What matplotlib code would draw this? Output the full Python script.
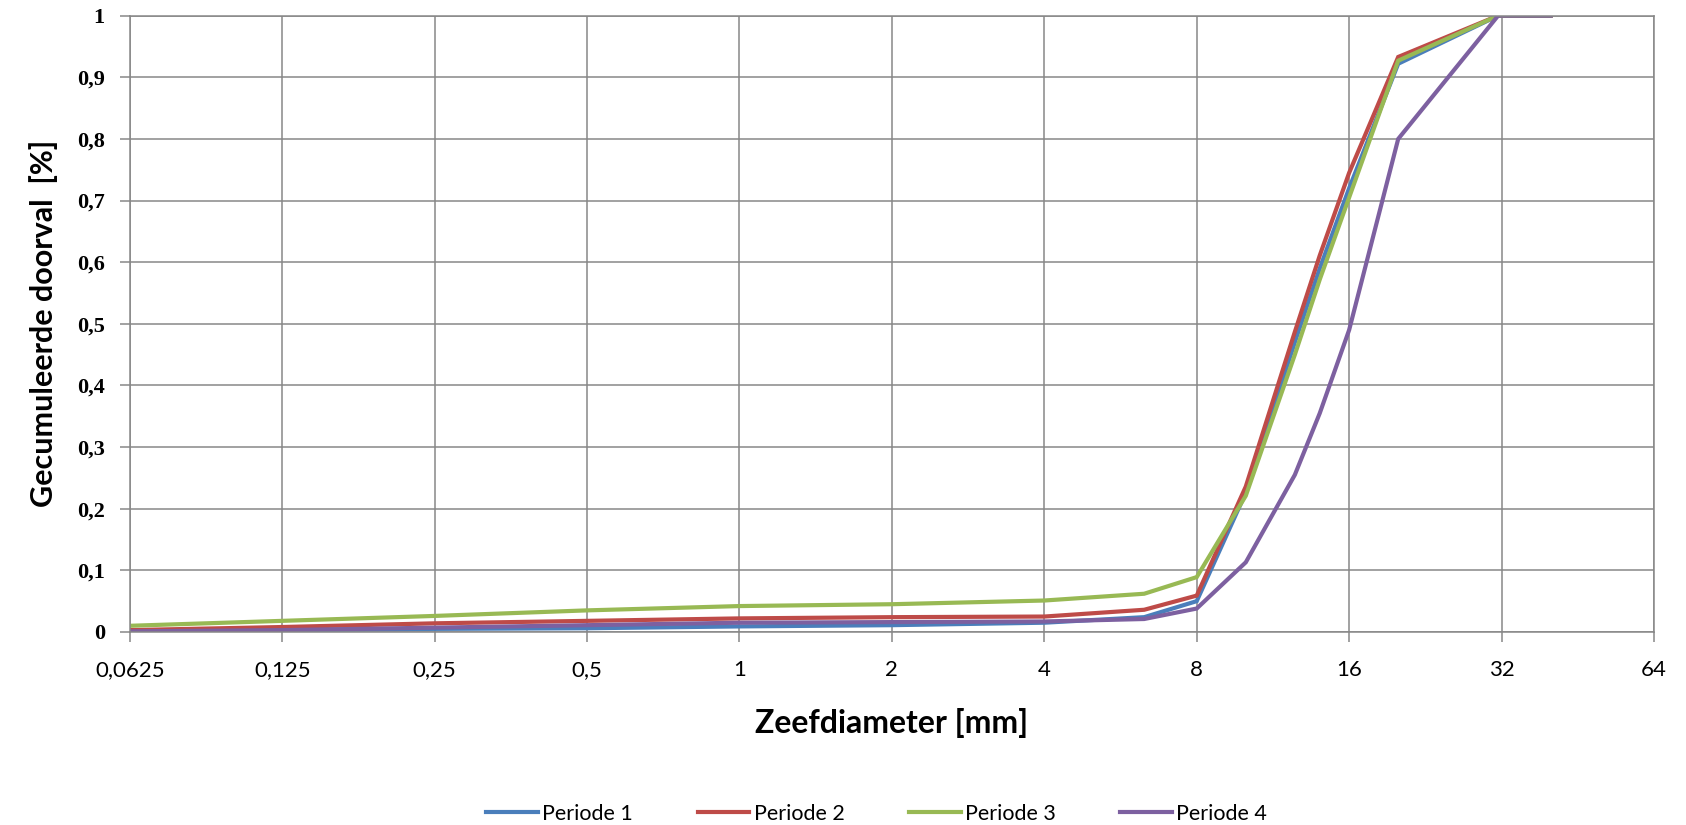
import matplotlib
matplotlib.use("Agg")
import matplotlib.pyplot as plt
import matplotlib.ticker as mtick
import numpy as np

# --- Data ---
sieve_mm = [0.0625, 0.125, 0.25, 0.5, 1, 2, 4, 6.3, 8, 10, 12.5, 14, 16, 20, 31.5, 40]

periode_1 = [0.001, 0.003, 0.005, 0.006, 0.009, 0.011, 0.015, 0.024, 0.050, 0.226, 0.470, 0.590, 0.720, 0.922, 1.0, 1.0]
periode_2 = [0.003, 0.008, 0.014, 0.018, 0.022, 0.024, 0.025, 0.036, 0.059, 0.236, 0.487, 0.611, 0.745, 0.933, 1.0, 1.0]
periode_3 = [0.010, 0.018, 0.026, 0.035, 0.042, 0.045, 0.051, 0.062, 0.089, 0.221, 0.450, 0.572, 0.705, 0.927, 1.0, 1.0]
periode_4 = [0.001, 0.003, 0.007, 0.011, 0.015, 0.016, 0.017, 0.021, 0.038, 0.113, 0.255, 0.355, 0.490, 0.800, 1.0, 1.0]

series_names = ["Periode 1", "Periode 2", "Periode 3", "Periode 4"]
series_values = [periode_1, periode_2, periode_3, periode_4]
series_colors = ["#4A7EBB", "#BE4B48", "#98B954", "#7D60A0"]

x_ticks = [0.0625, 0.125, 0.25, 0.5, 1, 2, 4, 8, 16, 32, 64]
x_tick_labels = ["0,0625", "0,125", "0,25", "0,5", "1", "2", "4", "8", "16", "32", "64"]
y_ticks = [0, 0.1, 0.2, 0.3, 0.4, 0.5, 0.6, 0.7, 0.8, 0.9, 1]
y_tick_labels = ["0", "0,1", "0,2", "0,3", "0,4", "0,5", "0,6", "0,7", "0,8", "0,9", "1"]

# --- Plot ---
fig = plt.figure(figsize=(16.86, 8.25), dpi=100)
ax = fig.add_axes([0.077, 0.234, 0.904, 0.747])

for name, vals, col in zip(series_names, series_values, series_colors):
    ax.plot(sieve_mm, vals, color=col, linewidth=3.0, label=name, solid_joinstyle="miter")

ax.set_xscale("log", base=2)
ax.set_xlim(0.0625, 64)
ax.set_ylim(0, 1)
ax.set_xticks(x_ticks)
ax.set_xticklabels(x_tick_labels, family="Lato", fontsize=16)
ax.xaxis.set_minor_locator(mtick.NullLocator())
ax.set_yticks(y_ticks)
ax.set_yticklabels(y_tick_labels, family="Liberation Serif", fontweight="bold", fontsize=16)

ax.grid(True, color="#878787", linewidth=1.1)
ax.set_axisbelow(True)
for s in ax.spines.values():
    s.set_color("#878787")
    s.set_linewidth(1.1)
ax.tick_params(axis="both", direction="out", length=7, width=1.1, color="#878787")
ax.tick_params(axis="x", pad=13)
ax.tick_params(axis="y", pad=11)

ax.set_xlabel("Zeefdiameter [mm]", family="Lato", fontweight="bold", fontsize=23, labelpad=20)
ax.set_ylabel("Gecumuleerde doorval  [%]", family="Lato", fontweight="bold", fontsize=22, labelpad=14)

leg = fig.legend(loc="lower center", bbox_to_anchor=(0.52, -0.022), ncol=4, frameon=False,
                 prop={"family": "Lato", "size": 15.5}, handlelength=2.4, handletextpad=0.2,
                 columnspacing=3.0)

fig.savefig("out.png", dpi=100, facecolor="white")
